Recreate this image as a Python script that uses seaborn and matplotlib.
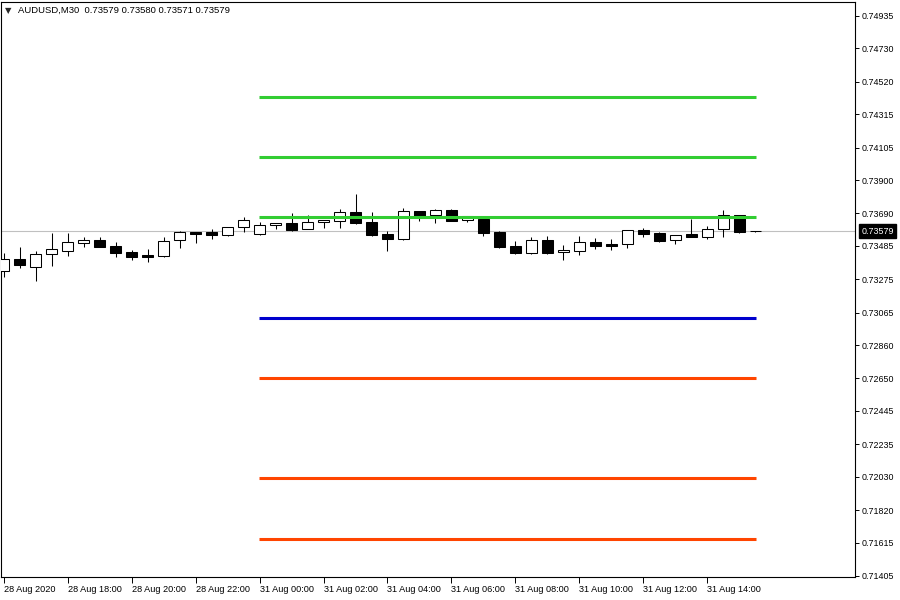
import numpy as np
import pandas as pd
import matplotlib
matplotlib.use("Agg")
import matplotlib.pyplot as plt
import matplotlib.transforms as mtransforms
import seaborn as sns

# --- chart values ---
symbol_label = "AUDUSD,M30"
last_ohlc = ["0.73579", "0.73580", "0.73571", "0.73579"]
bid_price = 0.73579

opens = [0.73328, 0.73403, 0.73353, 0.73435, 0.73454, 0.73504, 0.73523, 0.73485,
         0.73447, 0.73428, 0.73422, 0.73523, 0.73573, 0.73573, 0.73554, 0.73605,
         0.73561, 0.73618, 0.73630, 0.73592, 0.73636, 0.73643, 0.73699, 0.73636,
         0.73561, 0.73529, 0.73706, 0.73681, 0.73712, 0.73649, 0.73655, 0.73573,
         0.73485, 0.73441, 0.73523, 0.73447, 0.73454, 0.73510, 0.73498, 0.73498,
         0.73586, 0.73567, 0.73523, 0.73561, 0.73542, 0.73592, 0.73681, 0.73579]
highs = [0.73441, 0.73479, 0.73454, 0.73567, 0.73567, 0.73542, 0.73542, 0.73510,
         0.73460, 0.73466, 0.73542, 0.73580, 0.73573, 0.73592, 0.73605, 0.73668,
         0.73636, 0.73630, 0.73693, 0.73681, 0.73649, 0.73718, 0.73813, 0.73699,
         0.73580, 0.73725, 0.73706, 0.73718, 0.73718, 0.73674, 0.73662, 0.73580,
         0.73517, 0.73542, 0.73548, 0.73491, 0.73548, 0.73536, 0.73529, 0.73586,
         0.73599, 0.73573, 0.73554, 0.73655, 0.73611, 0.73712, 0.73681, 0.73580]
lows = [0.73290, 0.73346, 0.73264, 0.73359, 0.73422, 0.73479, 0.73479, 0.73416,
        0.73397, 0.73384, 0.73416, 0.73473, 0.73504, 0.73529, 0.73548, 0.73573,
        0.73554, 0.73592, 0.73580, 0.73592, 0.73599, 0.73599, 0.73624, 0.73548,
        0.73454, 0.73523, 0.73643, 0.73630, 0.73643, 0.73636, 0.73548, 0.73473,
        0.73435, 0.73435, 0.73435, 0.73397, 0.73428, 0.73466, 0.73460, 0.73473,
        0.73542, 0.73510, 0.73498, 0.73542, 0.73529, 0.73542, 0.73567, 0.73571]
closes = [0.73403, 0.73365, 0.73435, 0.73466, 0.73510, 0.73523, 0.73479, 0.73441,
          0.73416, 0.73416, 0.73517, 0.73573, 0.73561, 0.73554, 0.73605, 0.73649,
          0.73618, 0.73630, 0.73586, 0.73636, 0.73649, 0.73699, 0.73630, 0.73554,
          0.73529, 0.73706, 0.73674, 0.73712, 0.73643, 0.73674, 0.73567, 0.73479,
          0.73441, 0.73523, 0.73441, 0.73460, 0.73510, 0.73485, 0.73485, 0.73586,
          0.73561, 0.73517, 0.73554, 0.73542, 0.73592, 0.73681, 0.73573, 0.73579]

green_levels = [0.74424, 0.74046, 0.73668]
blue_levels = [0.73031]
red_levels = [0.72653, 0.72023, 0.71638]
level_first_bar = 16
level_last_bar = 47

price_ticks = [0.74935, 0.74730, 0.74520, 0.74315, 0.74105, 0.73900, 0.73690, 0.73485,
               0.73275, 0.73065, 0.72860, 0.72650, 0.72445, 0.72235, 0.72030, 0.71820,
               0.71615, 0.71405]
time_labels = ["28 Aug 2020", "28 Aug 18:00", "28 Aug 20:00", "28 Aug 22:00",
               "31 Aug 00:00", "31 Aug 02:00", "31 Aug 04:00", "31 Aug 06:00",
               "31 Aug 08:00", "31 Aug 10:00", "31 Aug 12:00", "31 Aug 14:00"]

df = pd.DataFrame({'open': opens, 'high': highs, 'low': lows, 'close': closes})
df['bar'] = np.arange(len(df))
df['up'] = df['close'] >= df['open']
df['body_lo'] = df[['open', 'close']].min(axis=1)
df['body_h'] = (df['close'] - df['open']).abs()

sns.set_theme(style="white")
plt.rcParams['font.family'] = ['Liberation Sans', 'DejaVu Sans']

fig = plt.figure(figsize=(9, 6), dpi=100)
ax = fig.add_axes([0.001, 0.0383, 0.949, 0.9584])

# bid line
ax.axhline(bid_price, color='#c0c0c0', lw=0.8, zorder=1)

# candles
ax.vlines(df['bar'], df['low'], df['high'], color='black', lw=0.75, zorder=2)
ax.bar(df['bar'], df['body_h'], bottom=df['body_lo'], width=0.68,
       color=np.where(df['up'], 'white', 'black'), edgecolor='black',
       linewidth=0.75, zorder=3)

# levels
x0, x1 = level_first_bar - 0.05, level_last_bar + 0.05
ax.hlines(green_levels, x0, x1, colors='#32cd32', lw=2.2, zorder=4)
ax.hlines(blue_levels, x0, x1, colors='#0000cd', lw=2.2, zorder=4)
ax.hlines(red_levels, x0, x1, colors='#ff4500', lw=2.2, zorder=4)

ax.set_xlim(-0.1875, 53.25)
ax.set_ylim(0.71398, 0.75023)

ax.yaxis.tick_right()
ax.set_yticks(price_ticks)
ax.set_yticklabels([f"{p:.5f}" for p in price_ticks])
ax.tick_params(axis='y', which='both', right=True, left=False, labelright=True,
               labelleft=False, direction='out', length=3, width=0.7, pad=2,
               labelsize=6.4, colors='black')

ax.set_xticks(range(0, len(df), 4))
ax.set_xticklabels(time_labels, ha='left')
ax.tick_params(axis='x', bottom=True, direction='out', length=4, width=0.7,
               pad=2, labelsize=6.6, colors='black')

for sp in ax.spines.values():
    sp.set_color('black')
    sp.set_linewidth(0.8)

# current price tag
trans = mtransforms.blended_transform_factory(ax.transAxes, ax.transData)
ax.text(1.0075, bid_price, f"{bid_price:.5f}", transform=trans, ha='left', va='center',
        fontsize=6.4, color='white',
        bbox=dict(facecolor='black', edgecolor='black', boxstyle='square,pad=0.25'))

# header
fig.text(0.005, 0.983, "\u25bc", fontsize=6, va='center', family='DejaVu Sans')
fig.text(0.02, 0.983, symbol_label + "  " + " ".join(last_ohlc), fontsize=6.8,
         va='center', color='black')

fig.savefig('out.png', dpi=100)
